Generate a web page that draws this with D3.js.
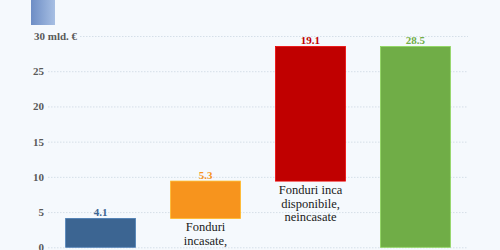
<!DOCTYPE html>
<html><head><meta charset="utf-8">
<script src="https://cdn.jsdelivr.net/npm/d3@7"></script>
<style>
html,body{margin:0;padding:0;background:#f5f9fd;overflow:hidden;}
svg{display:block;}
svg text{font-family:'Liberation Serif','DejaVu Serif','Times New Roman',serif;}
</style></head>
<body>
<svg id="c" width="500" height="250"></svg>
<script>
const categories = ["a", "b", "c", "d"];
const labelLines = [[], ["Fonduri", "incasate,"], ["Fonduri inca", "disponibile,", "neincasate"], []];
const values = [4.1, 5.3, 19.1, 28.5];
const isTotal = [false, false, false, true];
const colors = ["#3c6592", "#f7941d", "#c00000", "#70ad47"];
const yTicks = [0, 5, 10, 15, 20, 25, 30];

(function () {
const svg = d3.select("#c");
const mLeft = 48, mRight = 468, mTop = 36, mBottom = 247.3;

const x = d3.scaleBand().domain(categories).range([mLeft, mRight]).paddingInner(0.335).paddingOuter(0.168);
const y = d3.scaleLinear().domain([0, 30]).range([mBottom, mTop]);

const defs = svg.append("defs");
const g = defs.append("linearGradient").attr("id", "chip").attr("x1", "0").attr("x2", "1").attr("y1", "0").attr("y2", "0");
g.append("stop").attr("offset", "0").attr("stop-color", "#6d8dc5");
g.append("stop").attr("offset", "1").attr("stop-color", "#a7bfe3");
svg.append("rect").attr("x", 31).attr("y", -5).attr("width", 24).attr("height", 30).attr("fill", "url(#chip)");

const ax = svg.append("g").attr("transform", `translate(${mLeft},0)`)
  .call(d3.axisLeft(y).tickValues(yTicks).tickSize(-(mRight - mLeft)).tickPadding(4).tickFormat(d3.format("d")));
ax.attr("font-family", null);
ax.select(".domain").remove();
ax.selectAll(".tick line").attr("stroke", "#d5dfe8").attr("stroke-dasharray", "1.5,1.5").attr("stroke-width", 1);
ax.selectAll(".tick text").attr("fill", "#595959")
  .attr("font-weight", "bold").attr("font-size", 11);
ax.selectAll(".tick").filter(d => d === 30).each(function() {
  const t = d3.select(this);
  t.select("line").attr("x1", 32);
  t.select("text").attr("text-anchor", "start").attr("x", -14).text("30 mld. €");
});

let cum = 0;
const bars = values.map((v, i) => {
  let y0, y1;
  if (isTotal[i]) { y0 = 0; y1 = v; }
  else { y0 = cum; y1 = cum + v; cum = y1; }
  return { cat: categories[i], v, y0, y1, color: colors[i], lines: labelLines[i] };
});

svg.selectAll("rect.bar").data(bars).join("rect").attr("class", "bar")
  .attr("x", d => x(d.cat)).attr("width", x.bandwidth())
  .attr("y", d => y(d.y1)).attr("height", d => y(d.y0) - y(d.y1))
  .attr("fill", d => d.color)
  .attr("stroke", d => d3.color(d.color).brighter(0.6)).attr("stroke-width", 0.8);

svg.selectAll("text.val").data(bars).join("text").attr("class", "val")
  .attr("x", d => x(d.cat) + x.bandwidth() / 2).attr("y", d => y(d.y1) - 2.5)
  .attr("text-anchor", "middle").attr("fill", d => d.color)
  .attr("font-weight", "bold").attr("font-size", 11)
  .text(d => d.v.toFixed(1));

bars.forEach(d => {
  d.lines.forEach((ln, j) => {
    svg.append("text").attr("x", x(d.cat) + x.bandwidth() / 2).attr("y", y(d.y0) + 13 + j * 13.5)
      .attr("text-anchor", "middle").attr("fill", "#1a1a1a")
      .attr("font-size", 12.5).text(ln);
  });
});
})();
</script>
</body></html>
